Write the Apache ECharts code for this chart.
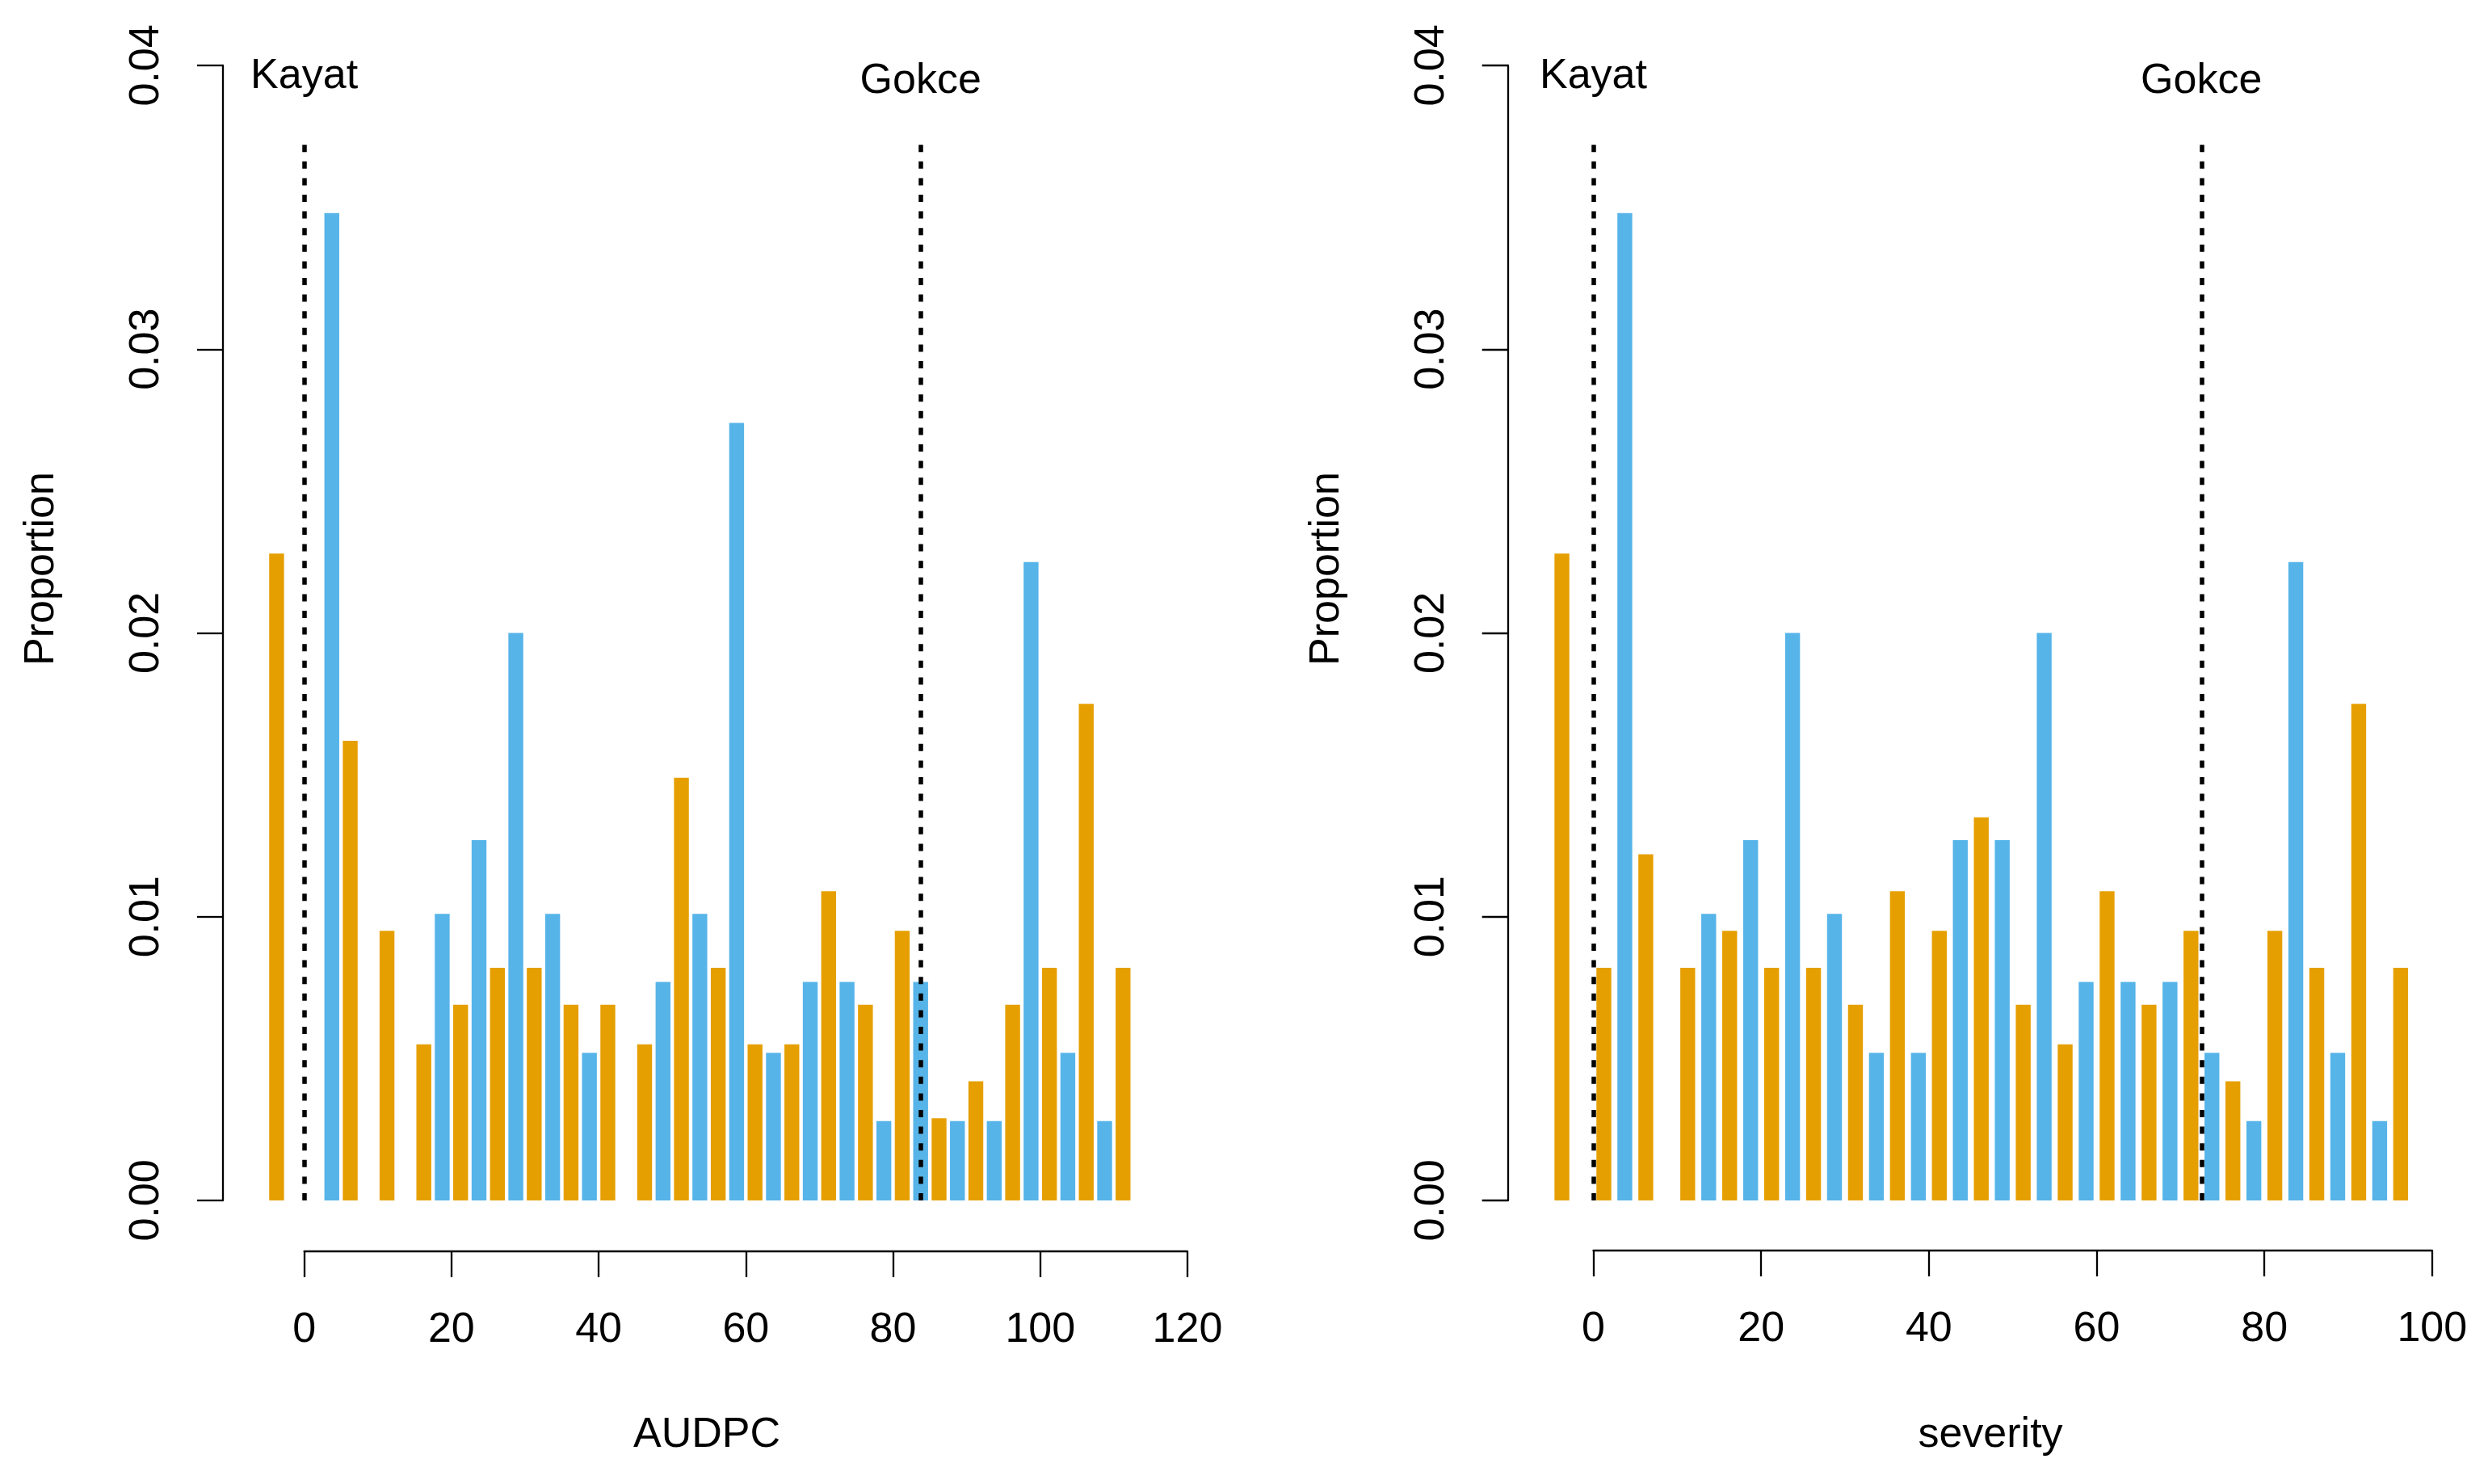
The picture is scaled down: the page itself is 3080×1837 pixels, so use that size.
<!DOCTYPE html>
<html>
<head>
<meta charset="utf-8">
<script src="https://cdn.jsdelivr.net/npm/echarts@6/dist/echarts.min.js"></script>
<style>
html,body{margin:0;padding:0;background:#fff;}
#chart{width:3080px;height:1837px;}
</style>
</head>
<body>
<div id="chart"></div>
<script>
// ---------- data ----------
const orangeX_audpc = [-3.75, 1.25, 6.25, 11.25, 16.25, 21.25, 26.25, 31.25, 36.25, 41.25, 46.25, 51.25, 56.25, 61.25, 66.25, 71.25, 76.25, 81.25, 86.25, 91.25, 96.25, 101.25, 106.25, 111.25];
const orangeY_audpc = [0.0228, 0, 0.0162, 0.0095, 0.0055, 0.0069, 0.0082, 0.0082, 0.0069, 0.0069, 0.0055, 0.0149, 0.0082, 0.0055, 0.0055, 0.0109, 0.0069, 0.0095, 0.0029, 0.0042, 0.0069, 0.0082, 0.0175, 0.0082];
const blueX_audpc = [3.75, 8.75, 13.75, 18.75, 23.75, 28.75, 33.75, 38.75, 43.75, 48.75, 53.75, 58.75, 63.75, 68.75, 73.75, 78.75, 83.75, 88.75, 93.75, 98.75, 103.75, 108.75];
const blueY_audpc = [0.0348, 0, 0, 0.0101, 0.0127, 0.0200, 0.0101, 0.0052, 0, 0.0077, 0.0101, 0.0274, 0.0052, 0.0077, 0.0077, 0.0028, 0.0077, 0.0028, 0.0028, 0.0225, 0.0052, 0.0028];

const orangeX_sev = [-3.75, 1.25, 6.25, 11.25, 16.25, 21.25, 26.25, 31.25, 36.25, 41.25, 46.25, 51.25, 56.25, 61.25, 66.25, 71.25, 76.25, 81.25, 86.25, 91.25, 96.25];
const orangeY_sev = [0.0228, 0.0082, 0.0122, 0.0082, 0.0095, 0.0082, 0.0082, 0.0069, 0.0109, 0.0095, 0.0135, 0.0069, 0.0055, 0.0109, 0.0069, 0.0095, 0.0042, 0.0095, 0.0082, 0.0175, 0.0082];
const blueX_sev = [3.75, 8.75, 13.75, 18.75, 23.75, 28.75, 33.75, 38.75, 43.75, 48.75, 53.75, 58.75, 63.75, 68.75, 73.75, 78.75, 83.75, 88.75, 93.75];
const blueY_sev = [0.0348, 0, 0.0101, 0.0127, 0.0200, 0.0101, 0.0052, 0.0052, 0.0127, 0.0127, 0.0200, 0.0077, 0.0077, 0.0077, 0.0052, 0.0028, 0.0225, 0.0052, 0.0028];

const cultivars = ['Kayat', 'Gokce'];
const refX_audpc = [0, 83.75];
const refX_sev = [0, 72.5];
const refLineTop = 0.0374;
const labelY = [0.0396, 0.03945];

const xTicks_audpc = {min: 0, max: 120, interval: 20};
const xTicks_sev = {min: 0, max: 100, interval: 20};
const yTicks = {min: 0, max: 0.04, interval: 0.01};
const xTitles = ['AUDPC', 'severity'];
const yTitle = 'Proportion';

// ---------- styles ----------
const ORANGE = '#E69F00', BLUE = '#56B4E9';
const FONT = "'Liberation Sans', Arial, sans-serif";
const FS = 52;
const BW = 18.4;

const pair = (xs, ys) => xs.map((x, i) => [x, ys[i]]);

function panelSeries(idx, ox, oy, bx, by, refX) {
  return [
    {
      type: 'bar', xAxisIndex: idx, yAxisIndex: idx,
      data: pair(ox, oy), barWidth: BW, barGap: '-100%', clip: false,
      itemStyle: {color: ORANGE}, silent: true
    },
    {
      type: 'bar', xAxisIndex: idx, yAxisIndex: idx,
      data: pair(bx, by), barWidth: BW, barGap: '-100%', clip: false,
      itemStyle: {color: BLUE}, silent: true,
      markLine: {
        silent: true, symbol: ['none', 'none'], animation: false,
        label: {show: false},
        lineStyle: {color: '#000', type: [9, 11.6], width: 5.5, opacity: 1},
        data: refX.map(x => [{coord: [x, 0]}, {coord: [x, refLineTop]}])
      }
    },
    {
      type: 'scatter', xAxisIndex: idx, yAxisIndex: idx,
      symbolSize: 0, itemStyle: {color: '#000', opacity: 1}, silent: true,
      data: refX.map((x, i) => ({name: cultivars[i], value: [x, labelY[i]]})),
      label: {
        show: true, position: 'inside', formatter: p => p.name,
        color: '#000', opacity: 1, textBorderWidth: 0,
        fontFamily: FONT, fontSize: FS
      },
      z: 5
    }
  ];
}

function xAxisDef(idx, t, off) {
  return {
    type: 'value', gridIndex: idx, min: t.min, max: t.max, interval: t.interval,
    position: 'bottom', offset: off,
    axisLine: {show: true, onZero: false, lineStyle: {color: '#000', width: 2.3}},
    axisTick: {show: true, inside: false, length: 32, lineStyle: {color: '#000', width: 2.3}},
    axisLabel: {show: true, margin: 72, color: '#000', fontFamily: FONT, fontSize: FS, lineHeight: FS},
    splitLine: {show: false}
  };
}
function yAxisDef(idx, off) {
  return {
    type: 'value', gridIndex: idx, min: yTicks.min, max: yTicks.max, interval: yTicks.interval,
    position: 'left', offset: off,
    axisLine: {show: true, onZero: false, lineStyle: {color: '#000', width: 2.3}},
    axisTick: {show: true, inside: false, length: 32, lineStyle: {color: '#000', width: 2.3}},
    axisLabel: {show: true, rotate: 90, margin: 68, color: '#000', fontFamily: FONT, fontSize: FS, lineHeight: FS,
      formatter: v => v.toFixed(2)},
    splitLine: {show: false}
  };
}

const chart = echarts.init(document.getElementById('chart'), null, {renderer: 'canvas'});
chart.setOption({
  animation: false,
  backgroundColor: '#fff',
  grid: [
    {left: 376.6, top: 81, width: 1093.4, height: 1405},
    {left: 1972.5, top: 81, width: 1038.3, height: 1405}
  ],
  xAxis: [xAxisDef(0, xTicks_audpc, 63), xAxisDef(1, xTicks_sev, 62)],
  yAxis: [yAxisDef(0, 100.6), yAxisDef(1, 105.8)],
  graphic: [
    {type: 'text', x: 52, y: 704, rotation: Math.PI / 2,
      style: {text: yTitle, fontFamily: FONT, fontSize: FS, fill: '#000', align: 'center', verticalAlign: 'middle'}},
    {type: 'text', x: 1643, y: 704, rotation: Math.PI / 2,
      style: {text: yTitle, fontFamily: FONT, fontSize: FS, fill: '#000', align: 'center', verticalAlign: 'middle'}},
    {type: 'text', x: 875, y: 1777,
      style: {text: xTitles[0], fontFamily: FONT, fontSize: FS, fill: '#000', align: 'center', verticalAlign: 'middle'}},
    {type: 'text', x: 2464, y: 1777,
      style: {text: xTitles[1], fontFamily: FONT, fontSize: FS, fill: '#000', align: 'center', verticalAlign: 'middle'}}
  ],
  series: [
    ...panelSeries(0, orangeX_audpc, orangeY_audpc, blueX_audpc, blueY_audpc, refX_audpc),
    ...panelSeries(1, orangeX_sev, orangeY_sev, blueX_sev, blueY_sev, refX_sev)
  ]
});
</script>
</body>
</html>
